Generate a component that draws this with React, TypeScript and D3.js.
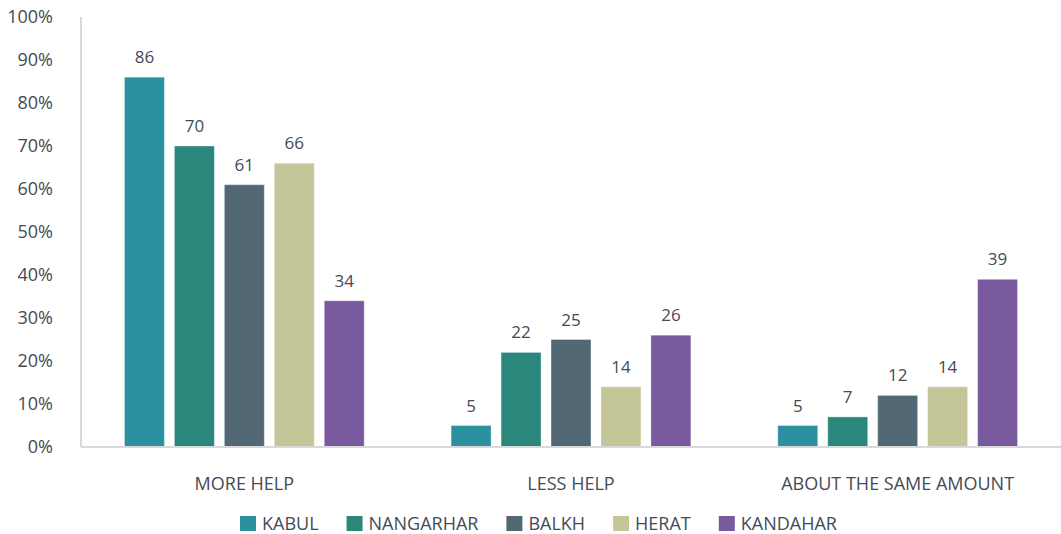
import { useEffect, useRef } from 'react';
import * as d3 from 'd3';

const categories = ['MORE HELP', 'LESS HELP', 'ABOUT THE SAME AMOUNT'];
const provinces = ['KABUL', 'NANGARHAR', 'BALKH', 'HERAT', 'KANDAHAR'];
const colors = ['#2b90a0', '#2b877b', '#526874', '#c4c69a', '#7a5a9e'];

// one array per province, values in the order of categories
const kabul = [86, 5, 5];
const nangarhar = [70, 22, 7];
const balkh = [61, 25, 12];
const herat = [66, 14, 14];
const kandahar = [34, 26, 39];
const seriesValues = [kabul, nangarhar, balkh, herat, kandahar];

const yTicks = [0, 10, 20, 30, 40, 50, 60, 70, 80, 90, 100];

export default function App() {
  const svgRef = useRef<SVGSVGElement>(null);

  useEffect(() => {
    if (!svgRef.current) return;
    const width = 1061;
    const height = 534;
    const margin = { top: 17, right: 0, bottom: 87, left: 81 };
    const font = '"Open Sans", sans-serif';
    const textColor = '#454a55';

    const svg = d3.select(svgRef.current);
    svg.selectAll('*').remove();

    const x0 = d3.scaleBand()
      .domain(categories)
      .range([margin.left, width - margin.right])
      .padding(0);

    const x1 = d3.scaleBand()
      .domain(provinces)
      .range([0, x0.bandwidth()])
      .paddingInner(0.2)
      .paddingOuter(0.87);

    const y = d3.scaleLinear()
      .domain([0, 100])
      .range([height - margin.bottom, margin.top]);

    // y tick labels
    svg.append('g')
      .selectAll('text')
      .data(yTicks)
      .enter()
      .append('text')
      .attr('x', 53)
      .attr('y', d => y(d))
      .attr('dy', '0.35em')
      .attr('text-anchor', 'end')
      .attr('fill', textColor)
      .style('font-family', font)
      .style('font-size', '18px')
      .text(d => d + '%');

    // axis lines
    svg.append('line')
      .attr('x1', margin.left).attr('x2', margin.left)
      .attr('y1', y(100)).attr('y2', y(0))
      .attr('stroke', '#d9d9d9').attr('stroke-width', 2);

    // bars
    const groups = svg.append('g')
      .selectAll('g')
      .data(categories)
      .enter()
      .append('g')
      .attr('transform', d => `translate(${x0(d)},0)`);

    groups.each(function (cat, ci) {
      const g = d3.select(this);
      const rows = provinces.map((p, pi) => ({ p, pi, v: seriesValues[pi][ci] }));
      g.selectAll('rect')
        .data(rows)
        .enter()
        .append('rect')
        .attr('x', d => x1(d.p)!)
        .attr('width', x1.bandwidth())
        .attr('y', d => y(d.v))
        .attr('height', d => y(0) - y(d.v))
        .attr('fill', d => colors[d.pi])
        .attr('stroke', 'rgba(255,255,255,0.35)')
        .attr('stroke-width', 1);
      g.selectAll('text')
        .data(rows)
        .enter()
        .append('text')
        .attr('x', d => x1(d.p)! + x1.bandwidth() / 2)
        .attr('y', d => y(d.v) - 14)
        .attr('text-anchor', 'middle')
        .attr('fill', textColor)
        .style('font-family', font)
        .style('font-size', '17px')
        .text(d => d.v);
    });

    svg.append('line')
      .attr('x1', margin.left).attr('x2', width)
      .attr('y1', y(0)).attr('y2', y(0))
      .attr('stroke', '#d9d9d9').attr('stroke-width', 2);

    // category labels
    svg.append('g')
      .selectAll('text')
      .data(categories)
      .enter()
      .append('text')
      .attr('x', d => x0(d)! + x0.bandwidth() / 2)
      .attr('y', 490)
      .attr('text-anchor', 'middle')
      .attr('fill', textColor)
      .style('font-family', font)
      .style('font-size', '18px')
      .text(d => d);

    // legend
    const legend = svg.append('g');
    let lx = 240;
    provinces.forEach((p, i) => {
      legend.append('rect')
        .attr('x', lx).attr('y', 516)
        .attr('width', 16).attr('height', 15)
        .attr('fill', colors[i]);
      const t = legend.append('text')
        .attr('x', lx + 22).attr('y', 523.5)
        .attr('dy', '0.35em')
        .attr('fill', textColor)
        .style('font-family', font)
        .style('font-size', '18px')
        .text(p);
      const w = (t.node() as SVGTextElement).getComputedTextLength();
      lx += 22 + w + 28;
    });
  }, []);

  return (
    <svg
      ref={svgRef}
      width={1061}
      height={534}
      style={{ position: 'absolute', left: 0, top: 0, background: '#fff' }}
    />
  );
}
